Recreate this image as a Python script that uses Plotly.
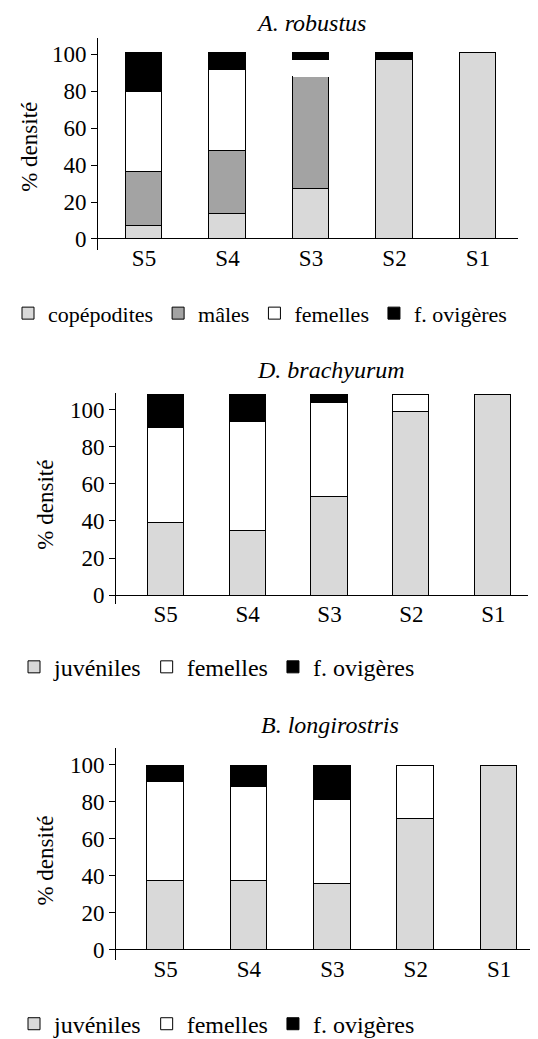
import plotly.graph_objects as go

W, H = 538, 1039
stations = ["S5", "S4", "S3", "S2", "S1"]
y_ticks = [0, 20, 40, 60, 80, 100]

# A. robustus
ar_copepodites = [7, 13.5, 27, 97, 101]
ar_males = [29.5, 34.5, 61, 0, 0]
ar_femelles = [43, 43.5, 9, 0, 0]
ar_ovigeres = [21.5, 9.5, 4, 4, 0]

# D. brachyurum
db_juveniles = [39, 35, 53, 99, 108]
db_femelles = [51.5, 58.5, 50.5, 9, 0]
db_ovigeres = [17.5, 14.5, 4.5, 0, 0]

# B. longirostris
bl_juveniles = [37.5, 37.5, 36, 71, 99.5]
bl_femelles = [53.5, 50.5, 45, 28.5, 0]
bl_ovigeres = [8.5, 11.5, 18.5, 0, 0]

FONT = "Times New Roman"
JUV = "#d9d9d9"
MALE = "#a3a3a3"


def px(x):
    return x / W


def py(y):
    return 1 - y / H


BW = 0.44

fig = go.Figure()


def add_bar(y, name, xa, ya, legend, fill, lw=None):
    line = dict(color="black", width=lw if lw is not None else 1)
    fig.add_trace(go.Bar(x=stations, y=y, name=name, xaxis=xa, yaxis=ya,
                         legend=legend, marker=dict(color=fill, line=line), width=BW,
                         hoverinfo="skip"))


add_bar(ar_copepodites, "copépodites", "x", "y", "legend", JUV)
add_bar(ar_males, "mâles", "x", "y", "legend", MALE)
add_bar(ar_femelles, "femelles", "x", "y", "legend", "white", [1, 1, 0, 1, 1])
add_bar(ar_ovigeres, "f. ovigères", "x", "y", "legend", "black")

add_bar(db_juveniles, "juvéniles", "x2", "y2", "legend2", JUV)
add_bar(db_femelles, "femelles", "x2", "y2", "legend2", "white")
add_bar(db_ovigeres, "f. ovigères", "x2", "y2", "legend2", "black")

add_bar(bl_juveniles, "juvéniles", "x3", "y3", "legend3", JUV)
add_bar(bl_femelles, "femelles", "x3", "y3", "legend3", "white")
add_bar(bl_ovigeres, "f. ovigères", "x3", "y3", "legend3", "black")


def xaxis(dom, rng, zero_px):
    return dict(domain=[px(dom[0]), px(dom[1])], range=rng, anchor="free",
                position=py(zero_px),
                type="category", showline=False, showgrid=False, zeroline=False,
                ticks="", tickfont=dict(family=FONT, size=23, color="black"),
                ticklabelstandoff=3)


def yaxis(dom, rng, anchor):
    return dict(domain=[py(dom[1]), py(dom[0])], range=rng, anchor=anchor,
                showline=True, linecolor="black", linewidth=1,
                showgrid=False, zeroline=True, zerolinecolor="black", zerolinewidth=1,
                tickvals=y_ticks, ticks="outside", ticklen=6, tickcolor="black",
                tickfont=dict(family=FONT, size=23, color="black"))


def legend(x, y, size):
    return dict(x=x, y=y, orientation="h", xanchor="left", yanchor="middle",
                font=dict(family=FONT, size=size, color="black"),
                bgcolor="rgba(0,0,0,0)", itemclick=False, traceorder="normal")


fig.update_layout(
    template="none",
    font=dict(family=FONT, color="black"),
    width=W, height=H, margin=dict(l=0, r=0, t=0, b=0),
    paper_bgcolor="white", plot_bgcolor="white",
    barmode="stack", bargap=0,
    xaxis=xaxis((90, 510), [-0.551, 4.479], 233),
    yaxis=yaxis((30, 244), [-5.9, 109], "x"),
    xaxis2=xaxis((108, 520), [-0.607, 4.424], 592),
    yaxis2=yaxis((388, 601), [-4.6, 109.1], "x2"),
    xaxis3=xaxis((108, 522), [-0.594, 4.37], 950),
    yaxis3=yaxis((746, 960), [-5.4, 109.3], "x3"),
    legend=legend(0, py(308), 22),
    legend2=legend(px(6), py(665), 24),
    legend3=legend(px(6), py(1025), 24),
    showlegend=True,
)

annots = [
    ("<i>A. robustus</i>", 303, 15, 0),
    ("<i>D. brachyurum</i>", 323, 365, 0),
    ("<i>B. longirostris</i>", 322, 723, 0),
    ("% densité", 22, 140, -90),
    ("% densité", 38, 501, -90),
    ("% densité", 38, 860, -90),
]
for text, x, y, ang in annots:
    fig.add_annotation(text=text, x=px(x), y=py(y), xref="paper", yref="paper",
                       showarrow=False, textangle=ang, xanchor="center", yanchor="middle",
                       font=dict(family=FONT, size=24 if ang == 0 else 23, color="black"))

fig.write_html("out.html")
